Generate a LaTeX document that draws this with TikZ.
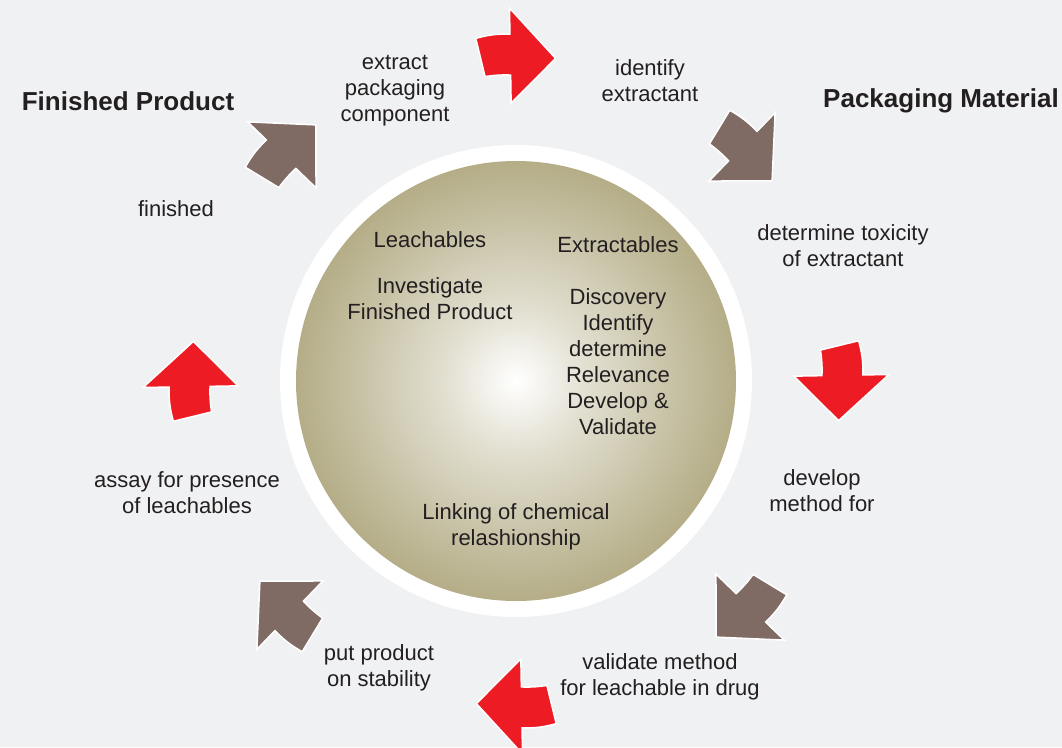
\documentclass[tikz,border=0pt]{standalone}
\usepackage{fontspec}
\setmainfont{Liberation Sans}
\definecolor{bg}{RGB}{240,241,243}
\definecolor{arred}{RGB}{237,28,36}
\definecolor{arbrown}{RGB}{128,106,100}
\definecolor{olivec}{RGB}{180,173,135}
\definecolor{txt}{RGB}{35,31,32}
\pgfdeclareradialshading{ballshade}{\pgfpoint{0bp}{0bp}}{color(0bp)=(white); color(8bp)=(olivec!38); color(18bp)=(olivec!75); color(25bp)=(olivec); color(50bp)=(olivec)}
\begin{document}
\begin{tikzpicture}[x=1pt,y=1pt,
  lbl/.style={font=\fontsize{22}{26}\selectfont, text=txt, align=center, inner sep=0pt},
  ttl/.style={font=\fontsize{26}{30}\selectfont\bfseries, text=txt, inner sep=0pt},
  arr/.style={draw=white, line width=1.5pt, line join=miter}]
\fill[bg] (-516,-366) rectangle (546,381);
\useasboundingbox (-516,-366) rectangle (546,381);
\fill[white] (0,0) circle (236);
\shade[shading=ballshade] (0,0) circle (220);
\foreach \a/\c in {90/arred,45/arbrown,0/arred,-45/arbrown,-90/arred,-135/arbrown,180/arred,135/arbrown}{
  \filldraw[arr, fill=\c] ({\a+6.7}:345) to[bend left=8] ({\a+1}:347)
    -- ({\a+1}:373) -- ({\a-7}:325) -- ({\a+1}:278) -- ({\a+1}:306)
    to[bend right=5] ({\a+5.8}:306) -- cycle;
}
\node[ttl] (fp) at (-388,280) {Finished Product};
\node[ttl] (pm) at (425,280) {Packaging Material};
\node[lbl] (extract) at (-121,290) {extract\\packaging\\component};
\node[lbl] (identify) at (134,300) {identify\\extractant};
\node[lbl] (toxicity) at (327,135) {determine toxicity\\of extractant};
\node[lbl] (develop) at (306,-110) {develop\\method for};
\node[lbl] (validate) at (144,-296) {validate method\\for leachable in drug};
\node[lbl] (put) at (-137,-287) {put product\\on stability};
\node[lbl] (assay) at (-329,-112) {assay for presence\\of leachables};
\node[lbl] (finished) at (-340,172) {finished};
\node[lbl] (leach) at (-86,141) {Leachables};
\node[lbl] (invest) at (-86,82) {Investigate\\Finished Product};
\node[lbl] (extr) at (102,136) {Extractables};
\node[lbl] (disc) at (102,19.5) {Discovery\\Identify\\determine\\Relevance\\Develop \&\\Validate};
\node[lbl] (link) at (0,-145.5) {Linking of chemical\\relashionship};
\end{tikzpicture}
\end{document}
